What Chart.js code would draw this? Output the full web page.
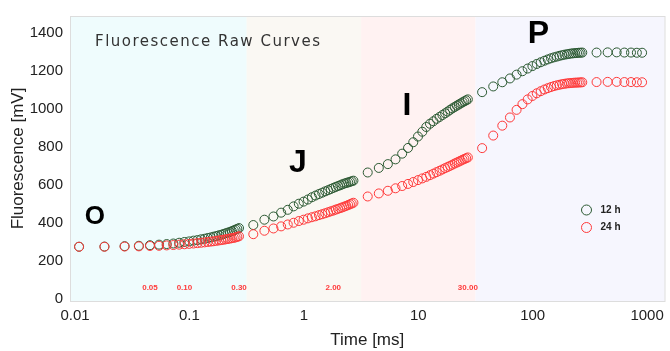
<!DOCTYPE html>
<html>
<head>
<meta charset="utf-8">
<script src="https://cdn.jsdelivr.net/npm/chart.js@4/dist/chart.umd.min.js"></script>
<style>
  html, body { margin: 0; padding: 0; background: #fff; }
</style>
</head>
<body>
<canvas id="chart" width="670" height="351"></canvas>
<script>
// time points [ms]
const times = [
  0.012, 0.02, 0.03, 0.04, 0.05, 0.06, 0.07, 0.08, 0.09, 0.10,
  0.11, 0.12, 0.13, 0.14, 0.15, 0.16, 0.17, 0.18, 0.19, 0.20,
  0.21, 0.22, 0.23, 0.24, 0.25, 0.26, 0.27, 0.28, 0.29, 0.30,
  0.4, 0.5, 0.6, 0.7, 0.8, 0.9, 1.0, 1.1, 1.2, 1.3, 1.4, 1.5, 1.6, 1.7,
  1.8, 1.9, 2.0, 2.1, 2.2, 2.3, 2.4, 2.5, 2.6, 2.7, 2.8, 2.9, 3.0,
  4, 5, 6, 7, 8, 9, 10, 11, 12, 13, 14, 15, 16, 17, 18, 19, 20,
  21, 22, 23, 24, 25, 26, 27, 28, 29, 30,
  40, 50, 60, 70, 80, 90, 100, 110, 120, 130, 140, 150, 160, 170,
  180, 190, 200, 210, 220, 230, 240, 250, 260, 270, 280, 290, 300,
  400, 500, 600, 700, 800, 900, 1000
];

const fluor12h = [
  276, 277, 279, 281, 284, 287, 290, 293, 297, 301,
  304, 308, 311, 315, 318, 322, 325, 329, 332, 336,
  339, 343, 347, 350, 354, 358, 362, 366, 370, 374,
  390, 418, 435, 455, 470, 488, 502, 513, 524, 536, 545, 553, 560, 567,
  573, 579, 585, 590, 595, 599, 604, 608, 611, 614, 617, 620, 623,
  666, 690, 710, 735, 765, 795, 825, 855, 880, 905, 922, 935, 948, 958,
  968, 977, 986, 995, 1003, 1010, 1017, 1023, 1029, 1035, 1040, 1045, 1050,
  1088, 1118, 1140, 1160, 1180, 1198, 1212, 1225, 1236, 1245, 1253, 1260, 1266, 1271,
  1275, 1279, 1282, 1285, 1287, 1289, 1291, 1292, 1293, 1294, 1295, 1295, 1296,
  1296, 1297, 1297, 1296, 1296, 1295, 1295
];

const fluor24h = [
  276, 276, 277, 278, 280, 281, 283, 285, 287, 289,
  291, 293, 295, 297, 299, 301, 303, 305, 307, 309,
  311, 313, 315, 317, 319, 321, 323, 325, 328, 331,
  342, 360, 372, 383, 393, 402, 411, 418, 425, 431, 436, 442, 447, 452,
  457, 462, 466, 471, 475, 479, 483, 487, 491, 495, 499, 503, 507,
  540, 556, 570, 583, 595, 606, 616, 626, 635, 643, 652, 660, 668, 675,
  682, 689, 695, 701, 707, 713, 718, 723, 728, 733, 737, 741, 745,
  794, 860, 912, 955, 995, 1025, 1050, 1068, 1082, 1093, 1102, 1109, 1115, 1120,
  1124, 1127, 1130, 1132, 1134, 1135, 1136, 1137, 1138, 1138, 1139, 1139, 1140,
  1141, 1142, 1142, 1141, 1141, 1140, 1140
];

const xTicks = [0.01, 0.1, 1, 10, 100, 1000];
const yTicks = [0, 200, 400, 600, 800, 1000, 1200, 1400];

// O-J-I-P phase boundaries [ms]
const phaseEdges = [0.35, 3.5, 35];
const phaseNames = ["O", "J", "I", "P"];
const phaseColors = ["#effcfd", "#faf8f3", "#fff2f2", "#f6f6fe"];

// marker times shown in red along the bottom
const markerTimes = [0.05, 0.1, 0.3, 2, 30];
const markerLabels = ["0.05", "0.10", "0.30", "2.00", "30.00"];

const green = "#2c5a33";
const red = "#ff3a3a";

// where the big phase letters sit, in data units
const phaseAnchors = [
  { x: 0.0165, y: 432 },
  { x: 0.98, y: 713 },
  { x: 8.8, y: 1012 },
  { x: 124, y: 1395 },
];

const backdropPlugin = {
  id: "backdrop",
  beforeDatasetsDraw(chart) {
    const { ctx, chartArea: area, scales } = chart;
    const xs = scales.x;
    const ys = scales.y;
    const edges = [area.left, ...phaseEdges.map((v) => xs.getPixelForValue(v)), area.right];

    ctx.save();
    for (let i = 0; i < phaseColors.length; i++) {
      ctx.fillStyle = phaseColors[i];
      ctx.fillRect(edges[i], area.top, edges[i + 1] - edges[i], area.bottom - area.top);
    }
    ctx.strokeStyle = "#dddddd";
    ctx.lineWidth = 1;
    ctx.strokeRect(area.left + 0.5, area.top + 0.5, area.right - area.left, area.bottom - area.top);

    // title inside the plot
    ctx.fillStyle = "#333";
    ctx.font = "15px 'DejaVu Sans'";
    ctx.letterSpacing = "1.5px";
    ctx.textAlign = "left";
    ctx.textBaseline = "middle";
    ctx.fillText("Fluorescence Raw Curves", area.left + 25, area.top + 26);
    ctx.letterSpacing = "0px";

    // phase letters
    ctx.fillStyle = "#000";
    ctx.textAlign = "center";
    phaseNames.forEach((name, i) => {
      ctx.font = i === 0 ? "bold 26px 'Liberation Sans'" : "bold 32px 'Liberation Sans'";
      ctx.fillText(name, xs.getPixelForValue(phaseAnchors[i].x), ys.getPixelForValue(phaseAnchors[i].y));
    });

    // red time markers
    ctx.fillStyle = red;
    ctx.font = "bold 8px 'Liberation Sans'";
    markerTimes.forEach((t, i) => {
      ctx.fillText(markerLabels[i], xs.getPixelForValue(t), area.bottom - 13);
    });
    ctx.restore();
  },
  afterDraw(chart) {
    const { ctx, chartArea: area } = chart;
    ctx.save();
    chart.data.datasets.forEach((ds, i) => {
      const cy = area.top + 194 + i * 17.5;
      const cx = area.right - 78;
      ctx.beginPath();
      ctx.arc(cx, cy, 5, 0, Math.PI * 2);
      ctx.strokeStyle = ds.borderColor;
      ctx.lineWidth = 1;
      ctx.stroke();
      ctx.fillStyle = "#222";
      ctx.font = "bold 10px 'Liberation Sans'";
      ctx.textAlign = "left";
      ctx.textBaseline = "middle";
      ctx.fillText(ds.label, cx + 14, cy);
    });
    ctx.restore();
  },
};

const tickFont = { family: "'Liberation Sans'", size: 15 };
const titleFont = { family: "'Liberation Sans'", size: 17 };

const chart = new Chart(document.getElementById("chart").getContext("2d"), {
  type: "scatter",
  data: {
    datasets: [
      {
        label: "12 h",
        data: times.map((t, i) => ({ x: t, y: fluor12h[i] })),
        borderColor: green,
        backgroundColor: "rgba(0,0,0,0)",
        pointRadius: 4.5,
        borderWidth: 1,
        order: 2,
      },
      {
        label: "24 h",
        data: times.map((t, i) => ({ x: t, y: fluor24h[i] })),
        borderColor: red,
        backgroundColor: "rgba(0,0,0,0)",
        pointRadius: 4.5,
        borderWidth: 1,
        order: 1,
      },
    ],
  },
  options: {
    responsive: false,
    animation: false,
    devicePixelRatio: 1,
    layout: { padding: { top: 12, right: 0, left: 0, bottom: 0 } },
    plugins: { legend: { display: false }, tooltip: { enabled: false } },
    scales: {
      x: {
        type: "logarithmic",
        min: 0.01,
        max: 1570,
        afterBuildTicks: (scale) => {
          scale.ticks = xTicks.map((v) => ({ value: v }));
        },
        afterFit: (scale) => {
          scale.height = 50;
        },
        ticks: {
          callback: (v) => String(v),
          font: tickFont,
          color: "#222",
          padding: 6,
          labelOffset: 5,
          maxRotation: 0,
          autoSkip: false,
        },
        grid: { display: false, drawTicks: false },
        border: { display: false },
        title: { display: true, text: "Time [ms]", font: titleFont, color: "#222", padding: 0 },
      },
      y: {
        min: -9,
        max: 1488,
        afterBuildTicks: (scale) => {
          scale.ticks = yTicks.map((v) => ({ value: v }));
        },
        afterFit: (scale) => {
          scale.width = 70;
        },
        ticks: { callback: (v) => String(v), font: tickFont, color: "#222", padding: 7 },
        grid: { display: false, drawTicks: false },
        border: { display: false },
        title: {
          display: true,
          text: "Fluorescence [mV]",
          font: titleFont,
          color: "#222",
          padding: { top: 8, bottom: 0 },
        },
      },
    },
  },
  plugins: [backdropPlugin],
});
</script>
</body>
</html>
